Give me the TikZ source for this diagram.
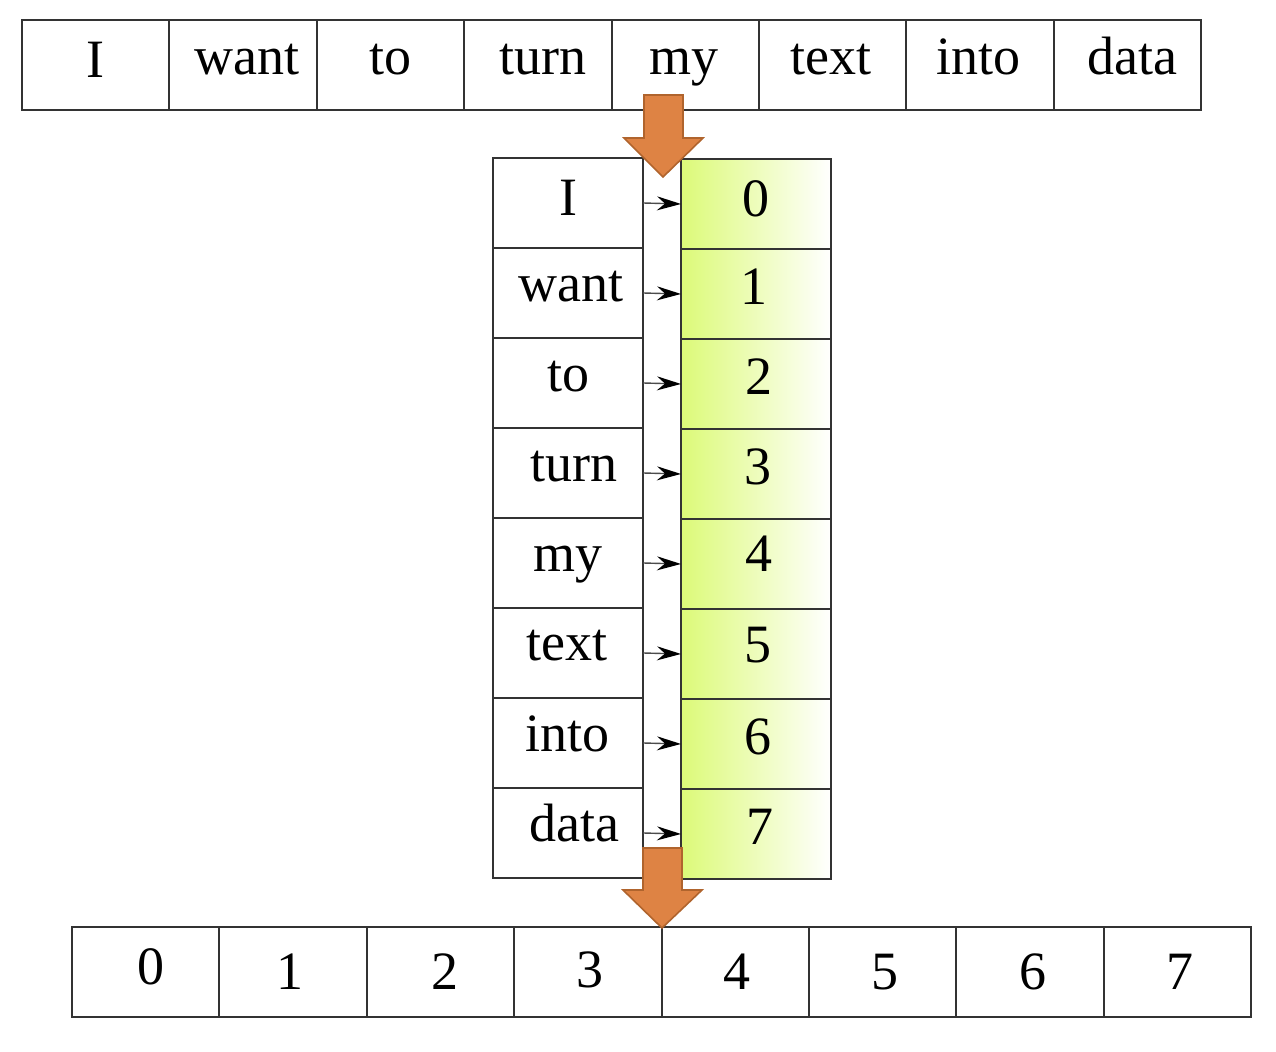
\documentclass[tikz,border=0pt]{standalone}
\usepackage{fontspec}
\setmainfont{Liberation Serif}
\usetikzlibrary{arrows.meta}
\definecolor{cellline}{RGB}{51,51,51}
\definecolor{lime}{RGB}{220,250,120}
\definecolor{orangefill}{RGB}{222,131,68}
\definecolor{orangeline}{RGB}{176,100,45}
\tikzset{
  cell/.style={draw=cellline,line width=1pt,minimum width=73.7pt,minimum height=45pt,inner sep=0pt,outer sep=0pt},
  midcell/.style={draw=cellline,line width=0.8pt,minimum width=75pt,minimum height=45pt,inner sep=0pt,outer sep=0pt},
  numcell/.style={midcell,left color=lime,right color=white},
  word/.style={anchor=base,inner sep=0pt,font=\fontsize{27pt}{30pt}\selectfont},
  link/.style={draw=black!70,line width=0.7pt,-{Stealth[length=12pt,width=7pt,inset=4pt,color=black]}},
  bigarrow/.style={fill=orangefill,draw=orangeline,line width=0.8pt,line join=miter}
}
\begin{document}
\begin{tikzpicture}[x=0.5pt,y=-0.5pt]
\useasboundingbox (0,0) rectangle (1276,1052);
% top row
\foreach \w/\tx/\by [count=\i from 0] in {I/95/78,want/247/75,to/390/75,turn/543/75,my/684/75,text/831/75,into/978/75,data/1132/75}{
  \node[cell] (t\i) at ({22+73.7+147.375*\i},65) {};
  \node[word] (tw\i) at (\tx,\by) {\w};
}
% middle columns
\foreach \w/\tx/\by/\n/\nx/\nb [count=\i from 0] in {I/568/216/0/756/217,want/571/302/1/754/305,to/568/392/2/759/395,turn/574/482/3/758/485,my/568/572/4/759/572,text/567/661/5/758/663,into/567/752/6/758/755,data/574/842/7/760/845}{
  \node[midcell] (l\i) at (568,{203+90*\i}) {};
  \node[numcell] (r\i) at (756,{204+90*\i}) {};
  \node[word] (lw\i) at (\tx,\by) {\w};
  \node[word] (rn\i) at (\nx,\nb) {\n};
  \draw[link] (l\i.east) -- (r\i.west);
}
% bottom row
\foreach \n/\tx/\by [count=\i from 0] in {0/151/985,1/290/990,2/445/990,3/590/988,4/737/990,5/885/990,6/1033/990,7/1180/990}{
  \node[cell] (b\i) at ({72+73.7+147.375*\i},972) {};
  \node[word] (bn\i) at (\tx,\by) {\n};
}
% big orange arrows
\draw[bigarrow] (644,95) -- (683,95) -- (683,138) -- (703,138) -- (663,177) -- (624,138) -- (644,138) -- cycle;
\draw[bigarrow] (643,848) -- (682,848) -- (682,890) -- (702,890) -- (662,928) -- (623,890) -- (643,890) -- cycle;
\end{tikzpicture}
\end{document}
